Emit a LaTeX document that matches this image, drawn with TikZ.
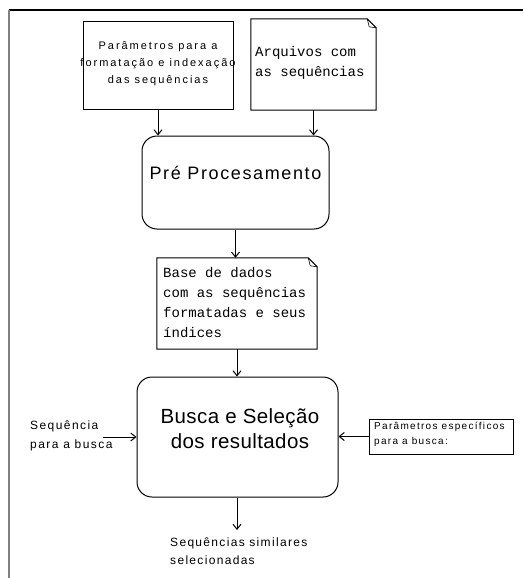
\documentclass[tikz,border=0pt]{standalone}
\usepackage{fontspec}
\setmainfont{Liberation Sans}
\newfontfamily\monof{Liberation Mono}
\usetikzlibrary{arrows.meta,calc}
% sans text at a given size with extra letter spacing
\newcommand{\spaced}[3]{\fontsize{#1}{#2}\selectfont\addfontfeatures{LetterSpace=#3}}
\begin{document}
\begin{tikzpicture}[x=1pt,y=-1pt,
  box/.style={draw,line width=1pt,inner sep=0pt},
  roundbox/.style={box,rounded corners=15pt},
  arr/.style={line width=1pt,-{Straight Barb[length=5pt,width=8pt,line width=1pt]}},
  txt/.style={inner sep=0pt},
  mtxt/.style={font=\fontsize{14}{20}\monof,align=left,inner sep=0pt},
]
\useasboundingbox (0,0) rectangle (523,578);
% frame
\draw[line width=1.2pt] (9,10) -- (523,10);
\draw[line width=2pt,gray] (9,10) -- (9,578);

% input boxes
\node[box,minimum width=150pt,minimum height=87pt] (p1) at (158,65.5) {};
\node[txt,align=center,font=\spaced{11}{17}{18}] (p1t) at (158,64) {Parâmetros para a\\formatação e indexação\\das sequências};

\node[minimum width=125pt,minimum height=91pt,inner sep=0pt] (arq) at (313.5,64.5) {};
\draw[line width=1pt] (arq.south west) -- (arq.north west) -- ([xshift=-9pt]arq.north east)
  -- ([yshift=-9pt]arq.north east) -- (arq.south east) -- cycle;
\draw[line width=0.6pt] ([xshift=-9pt]arq.north east) -- ([xshift=-7pt,yshift=-8pt]arq.north east) -- ([yshift=-9pt]arq.north east);
\node[mtxt,anchor=west] (arqt) at (255,63) {Arquivos com\\as sequências};

% preprocessing
\node[roundbox,minimum width=187pt,minimum height=93pt] (pre) at (235.5,182.5) {};
\node[txt,font=\spaced{18}{22}{9}] (pret) at (235.5,173) {Pré Procesamento};

% database
\node[minimum width=160pt,minimum height=91pt,inner sep=0pt] (db) at (237,303.5) {};
\draw[line width=1pt] (db.south west) -- (db.north west) -- ([xshift=-9pt]db.north east)
  -- ([yshift=-9pt]db.north east) -- (db.south east) -- cycle;
\draw[line width=0.6pt] ([xshift=-9pt]db.north east) -- ([xshift=-7pt,yshift=-8pt]db.north east) -- ([yshift=-9pt]db.north east);
\node[mtxt,anchor=west] (dbt) at (163,303) {Base de dados\\com as sequências\\formatadas e seus\\índices};

% search
\node[roundbox,minimum width=201pt,minimum height=120pt] (bus) at (237.5,437) {};
\node[txt,align=center,font=\spaced{20.5}{25}{2}] (bust) at (240,429) {Busca e Seleção\\dos resultados};

% side inputs
\node[txt,align=left,font=\spaced{12}{19}{12},anchor=west] (seq) at (30,436) {Sequência\\para a busca};
\coordinate (seqend) at (103,437);
\node[box,minimum width=144pt,minimum height=35pt] (par) at (441,436.5) {};
\node[txt,align=left,font=\spaced{10}{15}{13},anchor=west] (part) at (374,434.5) {Parâmetros específicos\\para a busca:};

% output
\coordinate (outend) at (237,530);
\node[txt,align=left,font=\spaced{12}{18}{11},anchor=west] (out) at (170,551) {Sequências similares\\selecionadas};

% connectors
\draw[arr] (p1.south) -- (p1.south |- pre.north);
\draw[arr] (arq.south) -- (arq.south |- pre.north);
\draw[arr] (pre.south) -- (pre.south |- db.north);
\draw[arr] (db.south) -- (db.south |- bus.north);
\draw[arr] (seqend) -- (seqend -| bus.west);
\draw[arr] (par.west) -- (par.west -| bus.east);
\draw[arr] (bus.south -| outend) -- (outend);
\end{tikzpicture}
\end{document}
